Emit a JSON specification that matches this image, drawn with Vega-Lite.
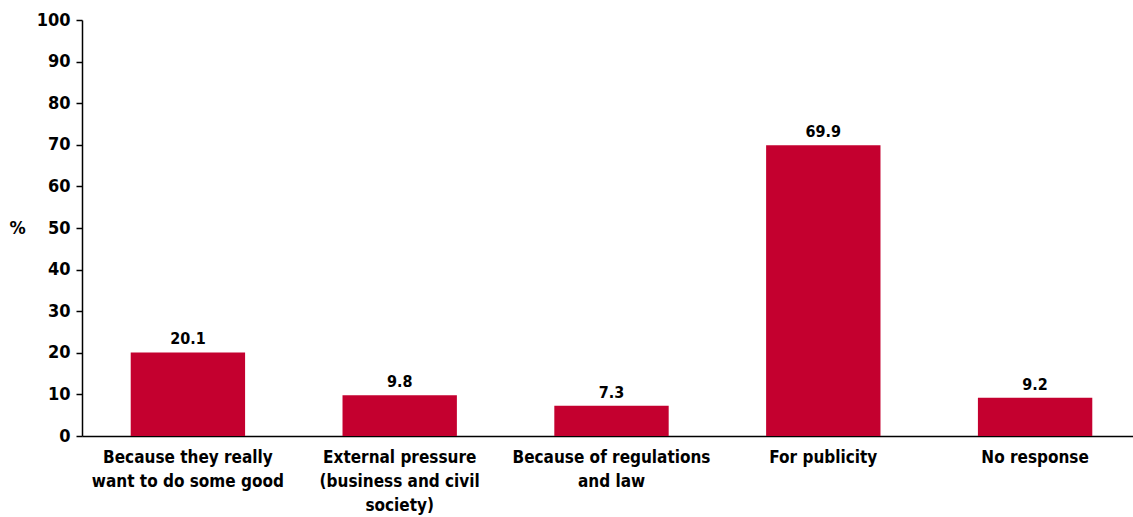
{
  "$schema": "https://vega.github.io/schema/vega-lite/v6.json",
  "width": 1059,
  "height": 416,
  "autosize": "none",
  "padding": {"left": 82, "top": 20, "right": 0, "bottom": 81},
  "background": "white",
  "config": {
    "view": {"stroke": null},
    "font": "'DejaVu Sans Condensed', 'Liberation Sans', sans-serif"
  },
  "data": {
    "values": [
      {"reason": "Because they really want to do some good", "pct": 20.1},
      {"reason": "External pressure (business and civil society)", "pct": 9.8},
      {"reason": "Because of regulations and law", "pct": 7.3},
      {"reason": "For publicity", "pct": 69.9},
      {"reason": "No response", "pct": 9.2}
    ]
  },
  "encoding": {
    "x": {
      "field": "reason",
      "type": "nominal",
      "sort": null,
      "scale": {"paddingInner": 0.46, "paddingOuter": 0.23},
      "axis": {
        "title": null,
        "labelAngle": 0,
        "ticks": false,
        "domainColor": "#000",
        "domainWidth": 1.5,
        "labelFont": "'DejaVu Sans Condensed', 'Liberation Sans', sans-serif",
        "labelFontWeight": "bold",
        "labelFontSize": 17,
        "labelColor": "#000",
        "labelPadding": 13,
        "labelLineHeight": 24,
        "labelLimit": 300,
        "labelExpr": "datum.value == 'Because they really want to do some good' ? ['Because they really', 'want to do some good'] : datum.value == 'External pressure (business and civil society)' ? ['External pressure', '(business and civil', 'society)'] : datum.value == 'Because of regulations and law' ? ['Because of regulations', 'and law'] : datum.value"
      }
    },
    "y": {
      "field": "pct",
      "type": "quantitative",
      "scale": {"domain": [0, 100]},
      "axis": {
        "title": "%",
        "titleAngle": 0,
        "titleFont": "'DejaVu Sans Condensed', 'Liberation Sans', sans-serif",
        "titleFontWeight": "bold",
        "titleFontSize": 18,
        "titleColor": "#000",
        "titleX": -65,
        "titleY": 208,
        "titleAlign": "center",
        "titleBaseline": "middle",
        "values": [0, 10, 20, 30, 40, 50, 60, 70, 80, 90, 100],
        "grid": false,
        "domainColor": "#000",
        "domainWidth": 1.5,
        "tickColor": "#000",
        "tickSize": 6,
        "tickWidth": 1.5,
        "labelFont": "'DejaVu Sans Condensed', 'Liberation Sans', sans-serif",
        "labelFontWeight": "bold",
        "labelFontSize": 18,
        "labelColor": "#000",
        "labelPadding": 6
      }
    }
  },
  "layer": [
    {"mark": {"type": "bar", "color": "#C4002F"}},
    {
      "mark": {"type": "text", "dy": -13, "font": "'DejaVu Sans Condensed', 'Liberation Sans', sans-serif", "fontWeight": "bold", "fontSize": 16, "color": "#000"},
      "encoding": {"text": {"field": "pct", "type": "quantitative", "format": ".1f"}}
    }
  ]
}
